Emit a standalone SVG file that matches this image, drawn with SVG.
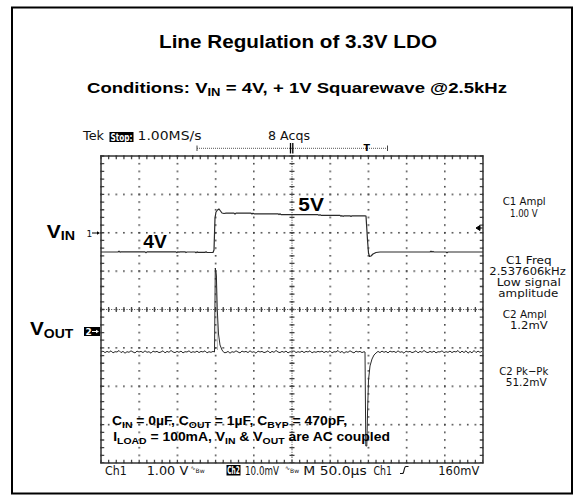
<svg xmlns="http://www.w3.org/2000/svg" width="584" height="500" viewBox="0 0 584 500">
<style>
.ttl{font-family:"Liberation Sans",Arial,sans-serif;font-weight:bold;fill:#000}
.scp{font-family:"DejaVu Sans",sans-serif;fill:#111;font-size:11.5px}
.inv{font-family:"DejaVu Sans",sans-serif;fill:#fff;font-weight:bold}
.dots{stroke:#444;fill:none}
.trace{stroke:#2a2a2a;stroke-width:1.2;fill:none;stroke-linejoin:round}
.meas{font-family:"DejaVu Sans",sans-serif;font-size:11px;fill:#111;text-anchor:middle}
</style>
<defs>
<pattern id="hdots" patternUnits="userSpaceOnUse" x="100.2" y="155.2" width="7.64" height="38.375">
<rect x="0" y="0" width="1.6" height="1.6" fill="#444"/>
</pattern>
<pattern id="vdots" patternUnits="userSpaceOnUse" x="100.2" y="155.2" width="38.2" height="7.675">
<rect x="0" y="0" width="1.6" height="1.6" fill="#444"/>
</pattern>
</defs>
<rect x="0" y="0" width="584" height="500" fill="#fff"/>
<rect id="frame" x="12" y="7.5" width="560" height="486" fill="none" stroke="#000" stroke-width="2"/>

<g id="title">
<text class="ttl" x="159" y="47.5" font-size="17.5" textLength="278" lengthAdjust="spacingAndGlyphs">Line Regulation of 3.3V LDO</text>
</g>
<g id="subtitle" transform="translate(87,92.5) scale(1.237,1)">
<text class="ttl" x="0" y="0" font-size="15">Conditions: V<tspan font-size="10.5" dy="3">IN</tspan><tspan dy="-3"> = 4V, + 1V Squarewave @2.5kHz</tspan></text>
</g>

<g id="header">
<text class="scp" x="83" y="140" textLength="21" lengthAdjust="spacingAndGlyphs">Tek</text>
<rect x="109.5" y="132" width="24" height="10" fill="#000"/>
<text class="inv" x="110.5" y="140.5" font-size="10" textLength="22" lengthAdjust="spacingAndGlyphs">Stop:</text>
<text class="scp" x="137.5" y="140" textLength="64" lengthAdjust="spacingAndGlyphs">1.00MS/s</text>
<text class="scp" x="268" y="140" textLength="42" lengthAdjust="spacingAndGlyphs">8 Acqs</text>
<path d="M197,148.3H387.5" stroke="#555" stroke-width="1" stroke-dasharray="1 1" fill="none"/>
<path d="M197,145.5V151M387.5,145.5V151" stroke="#444" stroke-width="1" fill="none"/>
<path d="M290.5,143V153.5M292.8,143V153.5" stroke="#000" stroke-width="1.3" fill="none"/>
<text x="366.7" y="151" font-family="DejaVu Sans,sans-serif" font-size="9.5" font-weight="bold" fill="#000" text-anchor="middle">T</text>
</g>

<g id="graticule">
<rect x="100.2" y="155.2" width="383" height="308" fill="url(#hdots)"/>
<rect x="100.2" y="155.2" width="383" height="308" fill="url(#vdots)"/>
<path class="dots" style="stroke-width:1;stroke-dasharray:1 1.55" d="M101,309.5H483M292,156V463"/>
<path class="dots" style="stroke-width:5;stroke-dasharray:1.3 6.34" d="M100.35,309.5H483"/>
<path class="dots" style="stroke-width:5;stroke-dasharray:1.3 6.375" d="M292,155.35V463"/>
<path class="dots" style="stroke-width:3.5;stroke-dasharray:1.3 6.34" d="M100.35,157.5H483M100.35,461.5H483"/>
<path class="dots" style="stroke-width:3.5;stroke-dasharray:1.3 6.375" d="M102.5,155.35V463M481.5,155.35V463"/>
<rect x="101" y="156" width="382" height="307" fill="none" stroke="#333" stroke-width="1.5"/>
</g>

<g id="connectors">
<path id="ch1-trace" class="trace" d="M101,252 H118 l1,-0.8 1,1 1,-0.3 H145 l1,0.8 1,-0.8 H176 l1,0.8 1,-1 1,0.6 1,-0.5 H185 l1,0.8 1,-0.6 H195 l1,0.7 1,-0.8 1,0.5 H205 l1,-0.6 1,0.7 H213 L214,250 215,218 216,212 217.5,210 219,209 220.5,211 222,213 224,213.5 226,213.2 H234 l1,1 1,-1 H251 l1,0.8 1,-0.8 1,0.6 H278 l1,0.8 1,-0.8 1,0.8 H318 l1,0.8 1,-0.8 1,0.8 H340 l1,0.8 1,-0.6 1,0.8 1,-0.6 H350 l1,0.7 1,-0.7 H365 L366,216 367.5,240 368.5,253 369.5,256.5 371,256 373,254 376,252.5 380,252 H430 l1,-0.8 1,0.8 1,-0.6 1,0.6 H446 l1,0.8 1,-0.8 H483"/>
<path d="M216.3,272 L217.5,350" stroke="#aaa" stroke-width="0.9" fill="none"/>
<g transform="matrix(1,0,0,0.6,0,140.8)">
<path id="ch2-trace" class="trace" vector-effect="non-scaling-stroke" style="stroke-width:1" d="M101,352 L103,350.5 105,353 107,351 109,352.5 111,350 113,353.5 115,351.5 117,352 119,349.5 121,353 123,351 125,354 127,351.5 129,352.5 131,350 133,352 135,353.5 137,350.5 139,352 141,351 143,353 145,350 147,352.5 149,351.5 151,354 153,350.5 155,352 157,351 159,353 161,352 163,350 165,353.5 167,351 169,352.5 171,349.5 173,352 175,353 177,351 179,352.5 181,350.5 183,353.5 185,351.5 187,352 189,350 191,353 193,351.5 195,352.5 197,350.5 199,353 201,351 203,352 205,350 207,353.5 209,351.5 211,352.5 213,351 214.5,352 215.3,212 216.4,225.3 217.2,278.7 218.5,322 220,340.3 222,348.7 224,353 226,353 228,351 230,354 232,351.5 234,352.5 236,350 238,352 240,353.5 242,350.5 244,352 246,351 248,353 250,350 252,352.5 254,351.5 256,354 258,350.5 260,352 262,351 264,353 266,352 268,350 270,353.5 272,351 274,352.5 276,349.5 278,352 280,353 282,351 284,352.5 286,350.5 288,353.5 290,351.5 292,352 294,350 296,353 298,351.5 300,352.5 302,350.5 304,353 306,351 308,352 310,350 312,353.5 314,351.5 316,352.5 318,351 320,352 322,350.5 324,353 326,351 328,352.5 330,350 332,353.5 334,351.5 336,352 338,349.5 340,353 342,351 344,354 346,351.5 348,352.5 350,350 352,352 354,353.5 356,350.5 358,352 360,351 362,353 364,351.5 365,352 365.8,508.7 366.8,508.7 367.6,448.7 368.5,398.7 370,375.3 372,363.7 374,357 376,353.7 378,351 380,353 382,350.5 384,352.5 386,351 388,353.5 390,350.5 392,352 394,351 396,353 398,350 400,352.5 402,351.5 404,354 406,350.5 408,352 410,351 412,353 414,352 416,350 418,353.5 420,351 422,352.5 424,349.5 426,352 428,353 430,351 432,352.5 434,350.5 436,353.5 438,351.5 440,352 442,350 444,353 446,351.5 448,352.5 450,350.5 452,353 454,351 456,352 458,349.5 460,353.5 462,350.5 464,353 466,350 468,354 470,351 472,353.5 474,349.5 476,353 478,350.5 480,352.5 482,351"/>
</g>
<path id="trig-level" d="M476,228 L480,225.5 L480,230.5 Z M480,228 H482.5" fill="#000" stroke="#000" stroke-width="1"/>
</g>

<g id="ch1-marker">
<text x="86.5" y="236.5" font-family="DejaVu Sans,sans-serif" font-size="9" fill="#111">1</text>
<path d="M92,233H98" stroke="#000" stroke-width="1"/>
<path d="M100,233 L97,231.2 L97,234.8 Z" fill="#000"/>
</g>
<g id="ch2-marker">
<rect x="84" y="327" width="16" height="9" fill="#000"/>
<text class="inv" x="85.5" y="335" font-size="9">2</text>
<path d="M92,331.5H96" stroke="#fff" stroke-width="1"/>
<path d="M99,331.5 L96,329.7 L96,333.3 Z" fill="#fff"/>
</g>

<g id="vin-label" transform="translate(46.7,238.3) scale(1.14,1)">
<text class="ttl" x="0" y="0" font-size="18.5">V<tspan font-size="12.5" dy="2">IN</tspan></text>
</g>
<g id="vout-label" transform="translate(30,335) scale(1.12,1)">
<text class="ttl" x="0" y="0" font-size="18.5">V<tspan font-size="12.5" dy="2.5">OUT</tspan></text>
</g>
<g id="level-labels">
<text class="ttl" x="143.3" y="248.3" font-size="18.5" textLength="23.5" lengthAdjust="spacingAndGlyphs">4V</text>
<text class="ttl" x="298.3" y="210.5" font-size="18.5" textLength="25.5" lengthAdjust="spacingAndGlyphs">5V</text>
</g>

<g id="measurements">
<text class="meas" x="524.2" y="205" textLength="43" lengthAdjust="spacingAndGlyphs">C1 Ampl</text>
<text class="meas" x="523.8" y="216.5" textLength="27.7" lengthAdjust="spacingAndGlyphs">1.00 V</text>
<text class="meas" x="528.8" y="263.5" textLength="45.7" lengthAdjust="spacingAndGlyphs">C1 Freq</text>
<text class="meas" x="527.5" y="274.5" textLength="76.4" lengthAdjust="spacingAndGlyphs">2.537606kHz</text>
<text class="meas" x="528.8" y="285.5" textLength="64.3" lengthAdjust="spacingAndGlyphs">Low signal</text>
<text class="meas" x="528.3" y="296.5" textLength="60" lengthAdjust="spacingAndGlyphs">amplitude</text>
<text class="meas" x="524.7" y="317.5" textLength="44" lengthAdjust="spacingAndGlyphs">C2 Ampl</text>
<text class="meas" x="528.8" y="328.5" textLength="37.7" lengthAdjust="spacingAndGlyphs">1.2mV</text>
<text class="meas" x="523.8" y="375" textLength="49" lengthAdjust="spacingAndGlyphs">C2 Pk−Pk</text>
<text class="meas" x="526.2" y="386" textLength="41" lengthAdjust="spacingAndGlyphs">51.2mV</text>
</g>

<g id="conditions-note" transform="translate(112,425) scale(1.16,1)">
<text class="ttl" x="0" y="0" font-size="12">C<tspan font-size="9" dy="3">IN</tspan><tspan dy="-3"> = 0µF, C</tspan><tspan font-size="9" dy="3">OUT</tspan><tspan dy="-3"> = 1µF, C</tspan><tspan font-size="9" dy="3">BYP</tspan><tspan dy="-3"> = 470pF,</tspan></text>
<text class="ttl" x="1" y="15.7" font-size="12">I<tspan font-size="9" dy="3">LOAD</tspan><tspan dy="-3"> = 100mA, V</tspan><tspan font-size="9" dy="3">IN</tspan><tspan dy="-3"> &amp; V</tspan><tspan font-size="9" dy="3">OUT</tspan><tspan dy="-3"> are AC coupled</tspan></text>
</g>

<g id="status-bar">
<text class="scp" x="105" y="474.5" textLength="21.7" lengthAdjust="spacingAndGlyphs">Ch1</text>
<text class="scp" x="146.7" y="474.5" textLength="41.5" lengthAdjust="spacingAndGlyphs">1.00 V</text>
<text x="190.5" y="470" font-family="DejaVu Sans,sans-serif" font-size="6" fill="#111">∿<tspan dy="3">Bw</tspan></text>
<rect x="226.5" y="465" width="14" height="10.5" fill="#000"/>
<text class="inv" x="227.2" y="473.8" font-size="10" textLength="12.6" lengthAdjust="spacingAndGlyphs">Ch2</text>
<text class="scp" x="245" y="474.5" textLength="34" lengthAdjust="spacingAndGlyphs">10.0mV</text>
<text x="285" y="470" font-family="DejaVu Sans,sans-serif" font-size="6" fill="#111">∿<tspan dy="3">Bw</tspan></text>
<text class="scp" x="303.3" y="474.5" textLength="63.4" lengthAdjust="spacingAndGlyphs">M 50.0µs</text>
<text class="scp" x="373.5" y="474.5" textLength="18.5" lengthAdjust="spacingAndGlyphs">Ch1</text>
<path d="M400,473.5 H402.5 C404.5,473.5 403.5,466.5 406,466.5 H408.5" stroke="#111" stroke-width="1.1" fill="none"/>
<text class="scp" x="438.3" y="474.5" textLength="41" lengthAdjust="spacingAndGlyphs">160mV</text>
</g>
</svg>
